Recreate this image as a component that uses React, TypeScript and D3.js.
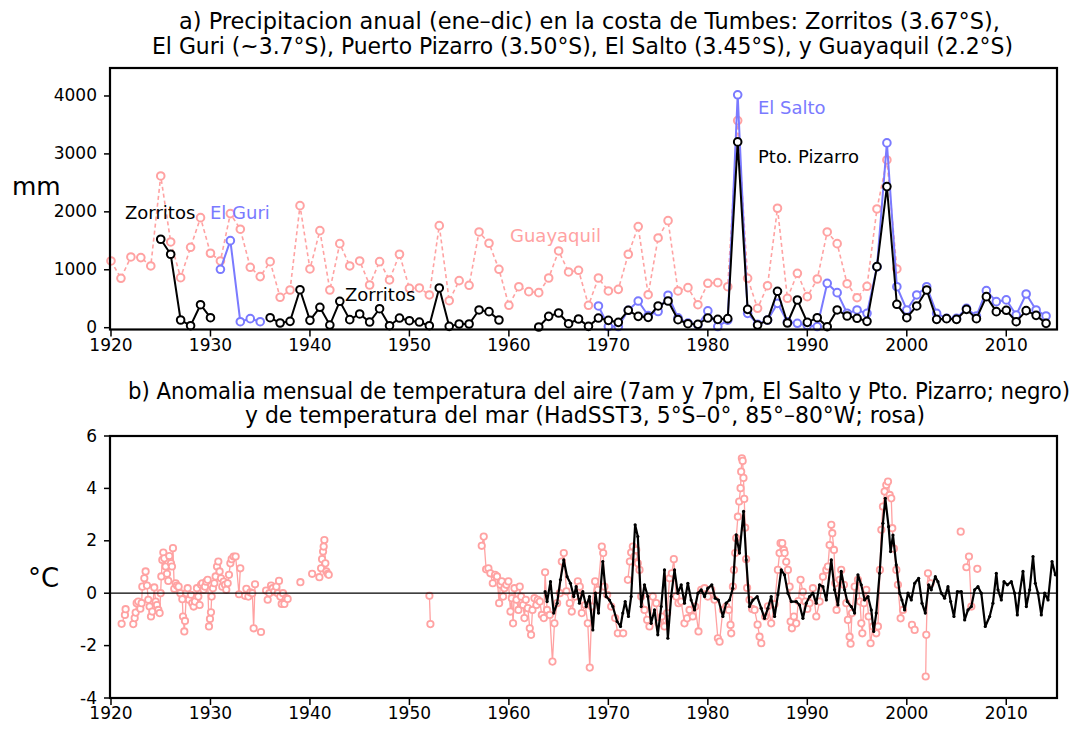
import * as d3 from 'd3'

// ---------- panel a: annual rainfall (mm) ----------
const guayaquilStart = 1920
const guayaquil = [1152, 853, 1221, 1210, 1066, 2620, 1480, 864, 1388, 1900,
  1285, 1152, 1970, 1700, 1043, 882, 1140, 525, 651, 2107,
  1014, 1675, 651, 1451, 1066, 1152, 737, 1140, 824, 1268,
  680, 686, 565, 1762, 466, 812, 732, 1653, 1458, 1008,
  387, 708, 622, 605, 858, 1325, 962, 991, 387, 858,
  634, 662, 1268, 1745, 570, 1549, 1848, 634, 691, 397,
  767, 778, 708, 3575, 853, 335, 725, 2062, 508, 939,
  536, 841, 1653, 1451, 760, 518, 715, 2050, 2896, 1014]

const zorritosStart = 1925
const zorritos = [1527, 1268, 133, 35, 397, 173, null, null, null, null, null,
  173, 81, 110, 656, 127, 352, 46, 456, 139, 237, 98, 328, 35, 167,
  121, 98, 35, 686, 23, 64, 64, 306, 277, 133]

const elGuriStart = 1931
const elGuri = [1008, 1503, 104, 156, 104]

const pizarroStart = 1963
const pizarro = [12, 196, 254, 69, 150, 23, 167, 127, 92, 300,
  196, 179, 375, 461, 139, 69, 58, 167, 144, 156,
  3207, 317, 46, 133, 628, 81, 478, 92, 173, 17,
  306, 202, 162, 110, 1054, 2436, 404, 173, 375, 651,
  144, 156, 144, 317, 156, 536, 277, 300, 104, 294, 213, 75]

const elSaltoStart = 1969
const elSalto = [375, 20, 20, 300, 460, 210, 280, 560, 170, 80,
  50, 290, 20, 130, 4020, 248, 60, 130, 420, 100,
  76, 40, 20, 766, 605, 250, 306, 248, 1050, 3190,
  708, 306, 565, 708, 248, 162, 162, 335, 200, 640,
  450, 480, 220, 582, 306, 202]

const rainTicks = [0, 1000, 2000, 3000, 4000]
const yearTicks = [1920, 1930, 1940, 1950, 1960, 1970, 1980, 1990, 2000, 2010]
const tempTicks = [-4, -2, 0, 2, 4, 6]

// ---------- panel b: monthly anomalies (°C) ----------
const airYears = [1963.64, 1963.84, 1964.18, 1964.51, 1964.85, 1965.18, 1965.52, 1965.85, 1966.19, 1966.52,
  1966.76, 1967.09, 1967.43, 1967.77, 1968.10, 1968.44, 1968.70, 1969.01, 1969.44, 1969.78,
  1970.11, 1970.45, 1970.88, 1971.22, 1971.45, 1971.69, 1972.02, 1972.29, 1972.69, 1972.96,
  1973.30, 1973.63, 1973.97, 1974.30, 1974.64, 1974.97, 1975.31, 1975.64, 1975.98, 1976.31,
  1976.65, 1976.98, 1977.32, 1977.65, 1977.99, 1978.32, 1978.66, 1979.00, 1979.33, 1979.67,
  1980.00, 1980.40, 1980.74, 1981.07, 1981.51, 1981.84, 1982.18, 1982.51, 1982.85, 1983.18,
  1983.59, 1983.86, 1984.19, 1984.53, 1984.96, 1985.36, 1985.70, 1986.04, 1986.37, 1986.71,
  1987.04, 1987.38, 1987.71, 1988.05, 1988.39, 1988.89, 1989.22, 1989.56, 1989.89, 1990.23,
  1990.56, 1990.90, 1991.23, 1991.57, 1991.91, 1992.41, 1992.74, 1993.08, 1993.41, 1993.75,
  1994.02, 1994.42, 1994.75, 1995.09, 1995.42, 1995.76, 1996.10, 1996.43, 1996.67, 1996.93,
  1997.27, 1997.60, 1997.84, 1998.17, 1998.37, 1998.61, 1998.94, 1999.28, 1999.51, 1999.78,
  2000.12, 2000.45, 2000.79, 2001.19, 2001.53, 2001.86, 2002.20, 2002.46, 2002.87, 2003.13,
  2003.47, 2003.80, 2004.14, 2004.41, 2004.74, 2005.08, 2005.48, 2005.82, 2006.15, 2006.49,
  2006.82, 2007.16, 2007.49, 2007.89, 2008.33, 2008.66, 2009.00, 2009.17, 2009.50, 2009.77,
  2010.11, 2010.51, 2010.84, 2011.11, 2011.35, 2011.68, 2012.02, 2012.35, 2012.69, 2012.92,
  2013.19, 2013.52, 2013.86, 2014.20, 2014.60, 2014.93]
const airValues = [0.06, -0.32, 0.44, -0.76, -0.38, 0.51, 1.27, 0.63, 0.38, -0.13,
  0.25, -0.38, 0.06, -0.51, -0.13, -1.40, 0.00, -0.76, 1.21, -0.13,
  -0.26, -0.51, -1.08, -1.27, -0.76, -0.32, -0.89, -0.13, 2.61, 2.16,
  -0.51, 0.32, -0.13, -1.15, -0.64, -1.59, -0.51, 0.89, -1.72, -0.13,
  0.89, 0.00, 0.32, -0.38, 0.38, -0.26, -0.64, 0.00, 0.13, -0.13,
  0.19, 0.32, -0.19, -0.26, -0.89, -0.38, -0.26, 0.19, 2.23, 1.53,
  3.12, 1.27, -0.51, -0.26, -0.13, -0.57, -0.96, -0.57, -0.13, -0.89,
  -0.06, 0.89, 0.70, 0.00, -0.32, -0.32, -0.45, -0.96, -0.38, -0.13,
  0.00, -0.38, 0.32, 0.25, -0.26, 1.27, 0.13, -0.45, 0.83, 0.13,
  -0.32, -0.51, -0.76, 0.70, 0.32, -0.26, -0.13, -0.64, -1.46, -0.76,
  0.76, 2.67, 3.62, 2.54, 1.59, 2.22, 1.08, 0.00, -0.26, -0.64,
  0.00, -0.26, 0.38, 0.57, -0.38, -0.76, 0.32, 0.13, 0.63, 0.44,
  0.00, -0.19, 0.25, -0.32, -0.89, 0.06, 0.06, -1.02, -0.64, -0.51,
  0.13, 0.25, 0.00, -1.27, -0.89, -0.38, 0.76, 0.13, -0.26, 0.44,
  0.32, 0.44, 0.00, -0.83, 0.00, 0.83, -0.51, 0.13, 1.40, 0.38,
  0.00, -0.83, 0.00, -0.26, 1.21, 0.70]

const sstYears = [1921.07, 1921.40, 1921.47, 1922.24, 1922.38, 1922.48, 1922.58, 1922.74, 1922.95, 1923.08,
  1923.15, 1923.35, 1923.48, 1923.62, 1923.75, 1923.88, 1924.02, 1924.15, 1924.35, 1924.49,
  1924.62, 1924.76, 1924.89, 1924.99, 1925.06, 1925.16, 1925.26, 1925.36, 1925.49, 1925.63,
  1925.76, 1925.86, 1926.03, 1926.13, 1926.23, 1926.36, 1926.50, 1926.63, 1926.80, 1926.97,
  1927.17, 1927.24, 1927.37, 1927.44, 1927.57, 1927.71, 1927.84, 1928.04, 1928.17, 1928.31,
  1928.44, 1928.64, 1928.78, 1928.91, 1929.05, 1929.18, 1929.31, 1929.45, 1929.58, 1929.72,
  1929.85, 1929.95, 1930.05, 1930.12, 1930.25, 1930.39, 1930.52, 1930.66, 1930.79, 1930.92,
  1931.06, 1931.19, 1931.33, 1931.46, 1931.59, 1931.73, 1931.86, 1932.00, 1932.13, 1932.33,
  1932.53, 1932.87, 1933.00, 1933.47, 1933.61, 1933.81, 1934.01, 1934.21, 1934.34, 1934.48,
  1935.08, 1935.59, 1935.75, 1935.92, 1936.09, 1936.26, 1936.42, 1936.62, 1936.76, 1936.89,
  1937.02, 1937.16, 1937.29, 1937.43, 1937.59, 1937.76, 1939.04, 1940.22, 1940.95, 1941.12,
  1941.22, 1941.32, 1941.38, 1941.45, 1941.55, 1941.65, 1941.79, 1941.89, 1952.01, 1952.11,
  1957.27, 1957.47, 1957.71, 1957.94, 1958.14, 1958.38, 1958.61, 1958.81, 1959.02, 1959.15,
  1959.28, 1959.42, 1959.55, 1959.75, 1959.95, 1960.16, 1960.29, 1960.42, 1960.56, 1960.76,
  1960.96, 1961.09, 1961.23, 1961.43, 1961.56, 1961.70, 1961.90, 1962.10, 1962.23, 1962.37,
  1962.57, 1962.77, 1962.90, 1963.11, 1963.31, 1963.51, 1963.64, 1963.84, 1964.11, 1964.38,
  1964.58, 1964.85, 1965.12, 1965.32, 1965.52, 1965.79, 1966.12, 1966.32, 1966.66, 1966.93,
  1967.13, 1967.33, 1967.67, 1967.93, 1968.13, 1968.34, 1968.67, 1968.94, 1969.34, 1969.48,
  1969.61, 1969.88, 1970.28, 1970.68, 1970.95, 1971.49, 1971.96, 1972.16, 1972.29, 1972.46,
  1972.62, 1972.80, 1972.96, 1973.13, 1973.30, 1973.63, 1973.90, 1974.13, 1974.47, 1974.81,
  1975.04, 1975.38, 1975.64, 1975.91, 1976.15, 1976.38, 1976.58, 1976.82, 1977.05, 1977.32,
  1977.65, 1977.92, 1978.16, 1978.49, 1978.73, 1979.06, 1979.33, 1979.67, 1980.00, 1980.34,
  1980.67, 1981.01, 1981.18, 1981.51, 1981.85, 1982.11, 1982.28, 1982.35, 1982.52, 1982.62,
  1982.75, 1982.85, 1983.02, 1983.15, 1983.29, 1983.35, 1983.42, 1983.50, 1983.58, 1983.66,
  1983.75, 1983.85, 1983.95, 1984.19, 1984.45, 1984.70, 1985.00, 1985.20, 1985.37, 1985.77,
  1986.05, 1986.37, 1986.70, 1987.04, 1987.21, 1987.31, 1987.48, 1987.64, 1987.72, 1987.88,
  1988.05, 1988.22, 1988.32, 1988.45, 1988.65, 1988.89, 1989.10, 1989.32, 1989.55, 1989.79,
  1990.00, 1990.23, 1990.56, 1990.90, 1991.24, 1991.57, 1991.91, 1992.07, 1992.24, 1992.41,
  1992.51, 1992.68, 1992.81, 1992.94, 1993.25, 1993.41, 1993.68, 1993.92, 1994.08, 1994.25,
  1994.35, 1994.49, 1994.76, 1995.09, 1995.29, 1995.43, 1995.53, 1995.69, 1995.93, 1996.16,
  1996.36, 1996.60, 1996.93, 1997.10, 1997.30, 1997.44, 1997.60, 1997.77, 1997.94, 1998.11,
  1998.28, 1998.44, 1998.54, 1998.70, 1998.95, 1999.11, 1999.38, 1999.62, 2000.52, 2000.79,
  2001.90, 2001.96, 2002.13, 2002.40, 2005.42, 2005.99, 2006.25, 2006.49, 2007.09]
const sstValues = [-1.17, -0.83, -0.61, -1.18, -0.95, -0.74, -0.38, -0.32, -0.59, -0.38,
  0.25, 0.57, 0.83, 0.29, -0.25, -0.51, -0.89, -0.70, 0.22, -0.32,
  -0.45, -0.64, -0.76, 0.00, 0.64, 1.27, 1.55, 1.33, 1.02, 0.74,
  0.47, 1.42, 1.14, 1.02, 1.72, 0.17, 0.38, 0.29, 0.25, 0.00,
  -0.23, -0.89, -1.46, -1.06, 0.00, 0.19, -0.25, -0.06, -0.38, -0.51,
  -0.32, 0.19, -0.13, -0.45, 0.32, 0.38, 0.13, 0.25, 0.44, 0.51,
  -1.27, -0.98, -0.73, -0.13, 0.19, 0.38, 0.64, 1.02, 1.21, 0.83,
  0.57, 0.25, 0.44, 0.32, 0.13, 0.38, 0.70, 1.14, 1.30, 1.40,
  1.40, -0.04, 0.95, -0.10, 0.17, -0.13, 0.03, 0.00, -1.34, 0.34,
  -1.48, 0.10, -0.25, 0.00, 0.29, 0.19, 0.06, 0.25, 0.00, 0.47,
  -0.13, -0.41, 0.00, -0.41, -0.19, -0.22, 0.42, 0.74, 0.61, 0.95,
  1.30, 1.59, 1.78, 2.03, 1.14, 0.83, 0.74, 0.70, -0.10, -1.18,
  1.81, 2.16, 0.91, 0.95, 0.76, 0.38, 0.70, 0.64, -0.38, 0.32,
  0.45, -0.13, 0.19, 0.32, 0.45, -0.70, -0.19, -1.15, 0.19, -0.25,
  -0.64, 0.25, -0.13, -0.45, -0.95, -0.25, -0.57, -1.34, -1.59, -0.64,
  -0.19, -0.45, -0.25, -0.32, -0.83, -0.95, 0.80, -0.64, -0.83, -2.61,
  -1.15, -0.38, 0.00, 1.21, 1.53, 0.07, -0.38, -0.70, -0.13, 0.45,
  0.25, -0.76, -0.45, -1.15, -2.84, -0.51, 0.45, 0.13, 1.78, 1.53,
  0.25, -0.06, -0.51, -0.95, -1.53, -1.53, 0.51, 1.21, 1.55, 1.78,
  1.40, 1.65, 1.14, 0.89, -0.13, -0.64, -1.02, -1.27, -0.13, -0.38,
  -1.15, -0.89, -1.27, -0.76, 0.57, 0.76, 1.30, -0.13, -0.38, -0.32,
  -1.15, -0.96, -0.64, -0.89, -0.51, -1.46, 0.13, 0.19, -0.13, 0.13,
  -0.25, -1.72, -1.85, -0.64, -0.51, -0.64, -1.21, -1.53, 0.25, 0.89,
  1.53, 2.10, 2.92, 3.50, 4.01, 4.64, 5.15, 5.05, 4.40, 3.60,
  2.50, 1.30, 0.20, -0.25, -0.60, -0.64, -1.20, -1.66, -1.91, -0.89,
  -0.50, -1.15, -0.42, 0.89, 1.53, 1.91, 1.91, 1.65, 1.53, 1.20,
  0.89, 0.25, -1.08, -1.34, -0.89, -1.15, -0.30, 0.51, 0.05, -0.32,
  -0.60, -0.38, 0.19, -0.89, -0.32, 0.63, 0.89, 1.02, 1.84, 2.61,
  2.29, 1.65, 0.38, -0.64, 0.51, 0.89, 0.32, -0.38, -1.02, -1.66,
  -1.93, -0.76, 0.25, 0.51, -0.32, -1.15, -1.53, -0.38, 0.13, -0.89,
  -1.91, -1.27, -1.53, -1.27, 0.89, 2.42, 3.31, 3.88, 4.13, 4.26,
  3.75, 3.62, 2.48, 1.70, 0.89, 0.32, -0.96, -0.64, -1.21, -1.40,
  -3.18, -1.59, 0.76, 0.38, 2.35, 0.99, 1.40, -0.51, 0.93]

const PINK = '#ffa2a2'
const BLUE = '#7a7aff'
const SANS = "'DejaVu Sans', Verdana, sans-serif"
const NARROW = "'Liberation Sans Narrow', 'DejaVu Sans Condensed', 'Liberation Sans', sans-serif"

type Pt = [number, number | null]
const annual = (start: number, vals: (number | null)[]): Pt[] => vals.map((v, i) => [start + i, v])

const x = d3.scaleLinear().domain([1919.9, 2015.1]).range([110, 1057])
const yRain = d3.scaleLinear().domain([-31, 4483]).range([329.5, 68])
const yTemp = d3.scaleLinear().domain([-4, 6]).range([698, 436])

const rainLine = d3.line<Pt>().defined(d => d[1] !== null).x(d => x(d[0])).y(d => yRain(d[1] as number))
const tempLine = d3.line<[number, number]>().x(d => x(d[0])).y(d => yTemp(d[1]))

function Series({ pts, color, dash, width }: { pts: Pt[]; color: string; dash?: string; width: number }) {
  return (
    <g>
      <path d={rainLine(pts) ?? ''} fill="none" stroke={color} strokeWidth={width} strokeDasharray={dash} />
      {pts.filter(p => p[1] !== null).map((p, i) => (
        <circle key={i} cx={x(p[0])} cy={yRain(p[1] as number)} r={3.8} fill="white" stroke={color} strokeWidth={2} />
      ))}
    </g>
  )
}

function sstSegments(): [number, number][][] {
  const segs: [number, number][][] = []
  let cur: [number, number][] = []
  sstYears.forEach((yr, i) => {
    if (cur.length && yr - cur[cur.length - 1][0] > 0.4) { segs.push(cur); cur = [] }
    cur.push([yr, sstValues[i]])
  })
  if (cur.length) segs.push(cur)
  return segs
}

function Frame({ top, bottom, yScale, ticks, fmt }: { top: number; bottom: number; yScale: d3.ScaleLinear<number, number>; ticks: number[]; fmt: (v: number) => string }) {
  return (
    <g>
      <rect x={110} y={top} width={947} height={bottom - top} fill="none" stroke="black" strokeWidth={2.2} />
      {yearTicks.map(t => (
        <g key={t}>
          <line x1={x(t)} x2={x(t)} y1={bottom} y2={bottom + 7} stroke="black" strokeWidth={1.5} />
          <text x={x(t)} y={bottom + 21} textAnchor="middle" fontFamily={SANS} fontSize={17}>{t}</text>
        </g>
      ))}
      {ticks.map(t => (
        <g key={t}>
          <line x1={104} x2={110} y1={yScale(t)} y2={yScale(t)} stroke="black" strokeWidth={1.5} />
          <text x={97} y={yScale(t) + 5.5} textAnchor="end" fontFamily={SANS} fontSize={17}>{fmt(t)}</text>
        </g>
      ))}
    </g>
  )
}

export default function App() {
  const airPts: [number, number][] = airYears.map((yr, i) => [yr, airValues[i]])
  const segs = sstSegments()
  return (
    <svg width={1074} height={729} style={{ position: 'absolute', left: 0, top: 0, background: 'white' }}>
      {/* titles */}
      <text x={179} y={29} fontFamily={NARROW} fontSize={23} textLength={821} lengthAdjust="spacingAndGlyphs">
        a) Precipitacion anual (ene–dic) en la costa de Tumbes: Zorritos (3.67°S),
      </text>
      <text x={152} y={54} fontFamily={NARROW} fontSize={23} textLength={861} lengthAdjust="spacingAndGlyphs">
        El Guri (~3.7°S), Puerto Pizarro (3.50°S), El Salto (3.45°S), y Guayaquil (2.2°S)
      </text>

      {/* panel a */}
      <Series pts={annual(guayaquilStart, guayaquil)} color={PINK} dash="4 3" width={1.6} />
      <Series pts={annual(elSaltoStart, elSalto)} color={BLUE} width={2} />
      <Series pts={annual(elGuriStart, elGuri)} color={BLUE} width={2} />
      <Series pts={annual(zorritosStart, zorritos)} color="black" width={2} />
      <Series pts={annual(pizarroStart, pizarro)} color="black" width={2} />
      <Frame top={68} bottom={329.5} yScale={yRain} ticks={rainTicks} fmt={v => String(v)} />
      <text x={12} y={195} fontFamily={SANS} fontSize={25}>mm</text>
      <g fontFamily={SANS} fontSize={18}>
        <text x={125} y={219} fill="black">Zorritos</text>
        <text x={210} y={219} fill={BLUE}>El Guri</text>
        <text x={510} y={242} fill={PINK}>Guayaquil</text>
        <text x={345} y={301} fill="black">Zorritos</text>
        <text x={758} y={114} fill={BLUE}>El Salto</text>
        <text x={758} y={163} fill="black">Pto. Pizarro</text>
      </g>

      {/* panel b */}
      <text x={128} y={399} fontFamily={NARROW} fontSize={23} textLength={942} lengthAdjust="spacingAndGlyphs">
        b) Anomalia mensual de temperatura del aire (7am y 7pm, El Salto y Pto. Pizarro; negro)
      </text>
      <text x={245} y={423} fontFamily={NARROW} fontSize={23} textLength={680} lengthAdjust="spacingAndGlyphs">
        y de temperatura del mar (HadSST3, 5°S–0°, 85°–80°W; rosa)
      </text>
      {segs.map((s, i) => (
        <path key={i} d={tempLine(s) ?? ''} fill="none" stroke={PINK} strokeWidth={1.3} />
      ))}
      {sstYears.map((yr, i) => (
        <circle key={i} cx={x(yr)} cy={yTemp(sstValues[i])} r={3.2} fill="white" stroke={PINK} strokeWidth={1.8} />
      ))}
      <line x1={110} x2={1057} y1={yTemp(0)} y2={yTemp(0)} stroke="black" strokeWidth={1.3} />
      <path d={tempLine(airPts) ?? ''} fill="none" stroke="black" strokeWidth={2.2} strokeLinejoin="round" />
      {airPts.map((p, i) => (
        <circle key={i} cx={x(p[0])} cy={yTemp(p[1])} r={1.6} fill="black" />
      ))}
      <Frame top={436} bottom={698} yScale={yTemp} ticks={tempTicks} fmt={v => (v < 0 ? '-' + Math.abs(v) : String(v))} />
      <text x={28} y={587} fontFamily={SANS} fontSize={26}>°C</text>
    </svg>
  )
}
